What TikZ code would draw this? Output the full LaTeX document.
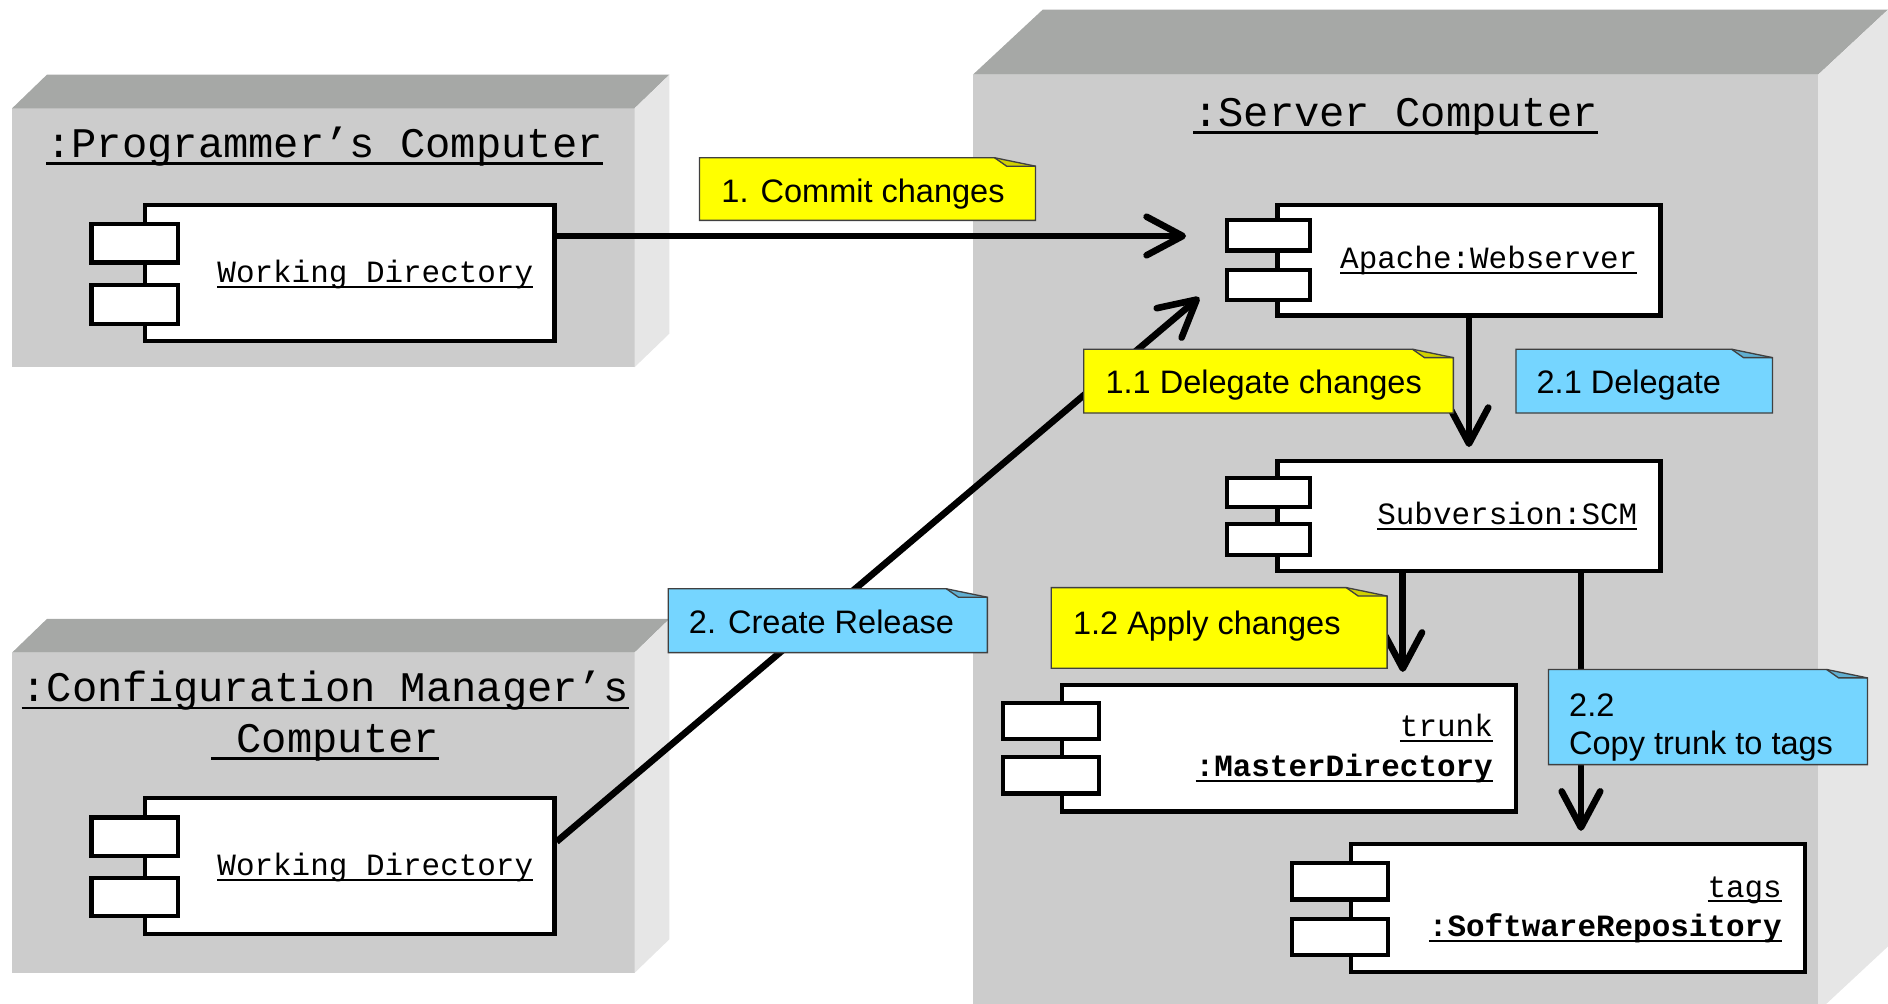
\documentclass[tikz,border=0pt]{standalone}
\usepackage{fontspec}
\setmainfont{Liberation Sans}
\newfontfamily\monof{Liberation Mono}
\usetikzlibrary{arrows.meta}
\definecolor{frontgray}{HTML}{CCCCCC}
\definecolor{topgray}{HTML}{A6A8A6}
\definecolor{sidegray}{HTML}{E6E6E6}
\definecolor{noteyellow}{HTML}{FFFF00}
\definecolor{noteblue}{HTML}{75D5FF}
\newcommand\myul[1]{\leavevmode\setbox0=\hbox{#1}\rlap{\rule[-0.17em]{\wd0}{0.06em}}\box0}
\newcommand\notebox[5]{%
  \fill[#5] (#1,#2) -- ({#3-34},#2) -- (#3,{#2+7}) -- (#3,#4) -- (#1,#4) -- cycle;
  \fill[#5!82!black] ({#3-34},#2) -- ({#3-24},{#2+7}) -- (#3,{#2+7}) -- cycle;
  \draw[noteborder] (#1,#2) -- ({#3-34},#2) -- (#3,{#2+7}) -- (#3,#4) -- (#1,#4) -- cycle;
  \draw[noteborder] ({#3-34},#2) -- ({#3-24},{#2+7}) -- (#3,{#2+7});
}
\tikzset{
  titletext/.style={font=\monof\fontsize{35}{42}\selectfont, anchor=base, inner sep=0},
  comptext/.style={font=\monof\fontsize{25.7}{30}\selectfont, anchor=base east, inner sep=0},
  notetext/.style={font=\fontsize{27}{32}\selectfont, anchor=base west, inner sep=0},
  comp/.style={draw, fill=white, line width=3.5pt, inner sep=0},
  smallrect/.style={draw, fill=white, line width=3.5pt},
  noteborder/.style={draw=black!75, line width=1.1pt, line join=miter},
  msg/.style={line width=5.5pt, -{Straight Barb[length=30pt,width=32pt,round]}}
}
\begin{document}
\begin{tikzpicture}[x=1pt,y=-1pt]
\useasboundingbox (0,0) rectangle (1568,833);
% ---------- Programmer's computer
\fill[frontgray] (10,90) rectangle (527,305);
\fill[topgray] (10,90) -- (39,62) -- (556,62) -- (527,90) -- cycle;
\fill[sidegray] (527,90) -- (556,62) -- (556,277) -- (527,305) -- cycle;
\node[titletext] (pctitle) at (269.5,131) {\myul{:Programmer’s Computer}};
\node[comp, minimum width=340pt, minimum height=113pt] (wd1) at (290.5,227) {};
\draw[smallrect] (76,186) rectangle (148,218);
\draw[smallrect] (76,237) rectangle (148,269);
\node[comptext] (wd1l) at (443,235) {\myul{Working Directory}};
% ---------- Configuration manager's computer
\fill[frontgray] (10,542) rectangle (527,808);
\fill[topgray] (10,542) -- (39,514) -- (556,514) -- (527,542) -- cycle;
\fill[sidegray] (527,542) -- (556,514) -- (556,780) -- (527,808) -- cycle;
\node[titletext] (cmtitle1) at (270,583) {\myul{:Configuration Manager’s}};
\node[titletext] (cmtitle2) at (270,625) {\myul{ Computer}};
\node[comp, minimum width=340pt, minimum height=113pt] (wd2) at (290.5,719) {};
\draw[smallrect] (76,679) rectangle (148,711);
\draw[smallrect] (76,729) rectangle (148,761);
\node[comptext] (wd2l) at (443,727) {\myul{Working Directory}};
% ---------- Server computer
\fill[frontgray] (808,62) rectangle (1510,845);
\fill[topgray] (808,62) -- (866,8) -- (1568,8) -- (1510,62) -- cycle;
\fill[sidegray] (1510,62) -- (1568,8) -- (1568,786) -- (1510,840) -- cycle;
\node[titletext] (sctitle) at (1159,105) {\myul{:Server Computer}};
% Apache
\node[comp, minimum width=318pt, minimum height=92pt] (apache) at (1220,216) {};
\draw[smallrect] (1019,183) rectangle (1088,208);
\draw[smallrect] (1019,224) rectangle (1088,249);
\node[comptext] (apachel) at (1360,223) {\myul{Apache:Webserver}};
% Subversion
\node[comp, minimum width=318pt, minimum height=91pt] (scm) at (1220,428.5) {};
\draw[smallrect] (1019,397) rectangle (1088,421);
\draw[smallrect] (1019,435) rectangle (1088,461);
\node[comptext] (scml) at (1360,436) {\myul{Subversion:SCM}};
% trunk
\node[comp, minimum width=377pt, minimum height=105pt] (trunk) at (1070.5,621.5) {};
\draw[smallrect] (833,584) rectangle (913,614);
\draw[smallrect] (833,629) rectangle (913,659);
\node[comptext] (trunkl1) at (1240,612) {\myul{trunk}};
\node[comptext] (trunkl2) at (1240,645) {\myul{\bfseries :MasterDirectory}};
% tags
\node[comp, minimum width=377pt, minimum height=106pt] (tags) at (1310.5,754) {};
\draw[smallrect] (1073,717) rectangle (1153,747);
\draw[smallrect] (1073,763) rectangle (1153,793);
\node[comptext] (tagsl1) at (1480,745) {\myul{tags}};
\node[comptext] (tagsl2) at (1480,778) {\myul{\bfseries :SoftwareRepository}};
% ---------- connectors
\coordinate (commitEnd) at (985,196);
\coordinate (releaseEnd) at (996,247);
\coordinate (trunkEnd) at (1165,558);
\coordinate (tagsEnd) at (1313,690);
\draw[msg] ([yshift=31pt]wd1.east) -- (commitEnd);
\draw[msg] ([yshift=20pt]wd2.east) -- (releaseEnd);
\draw[msg] (apache.south) -- ([yshift=10pt]scm.north);
\draw[msg] ([xshift=-55pt]scm.south) -- (trunkEnd);
\draw[msg] ([xshift=93pt]scm.south) -- (tagsEnd);
% ---------- notes
\notebox{581}{131}{860}{183}{noteyellow}
\node[notetext] (n1) at (599,168) {1. Commit changes};
\notebox{555}{489}{820}{542}{noteblue}
\node[notetext] (n2) at (572,526) {2. Create Release};
\notebox{900}{290}{1207}{343}{noteyellow}
\node[notetext] (n11) at (918,327) {1.1 Delegate changes};
\notebox{1259}{290}{1472}{343}{noteblue}
\node[notetext] (n21) at (1276,327) {2.1 Delegate};
\notebox{873}{488}{1152}{555}{noteyellow}
\node[notetext] (n12) at (891,527) {1.2 Apply changes};
\notebox{1286}{556}{1551}{635}{noteblue}
\node[notetext] (n22a) at (1303,595) {2.2};
\node[notetext] (n22b) at (1303,627) {Copy trunk to tags};
\end{tikzpicture}
\end{document}
